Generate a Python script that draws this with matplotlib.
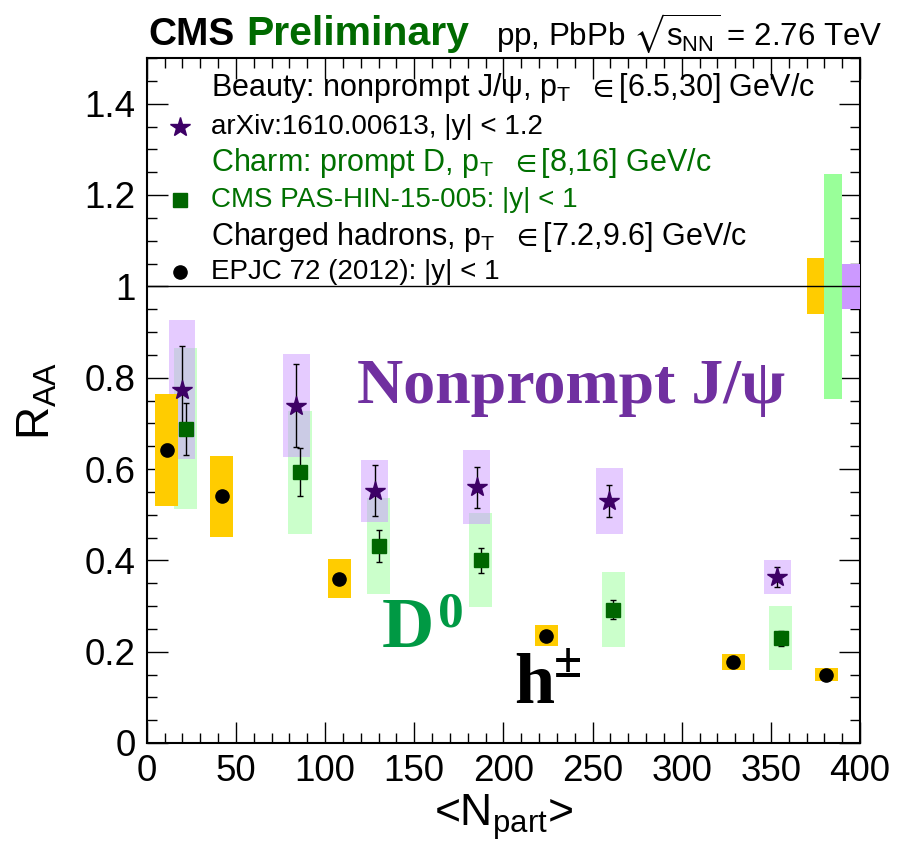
import numpy as np
import matplotlib
matplotlib.use('Agg')
import matplotlib.pyplot as plt
from matplotlib.ticker import MultipleLocator, FuncFormatter

plt.rcParams['font.family'] = ['Liberation Sans', 'DejaVu Sans']
plt.rcParams['mathtext.fontset'] = 'custom'
plt.rcParams['mathtext.rm'] = 'Liberation Sans'
plt.rcParams['mathtext.it'] = 'Liberation Sans'
plt.rcParams['mathtext.bf'] = 'Liberation Sans:bold'
plt.rcParams['mathtext.fallback'] = 'stixsans'

# charged hadrons, EPJC 72 (2012)
npart_h = np.array([11.2, 42.0, 108.0, 224.0, 329.0, 381.0])
raa_h = np.array([0.642, 0.540, 0.360, 0.235, 0.177, 0.150])
stat_h = np.array([0.012, 0.006, 0.005, 0.004, 0.003, 0.003])
syst_h = np.array([0.123, 0.088, 0.043, 0.023, 0.018, 0.014])

# prompt D0, CMS PAS-HIN-15-005
npart_d = np.array([21.9, 86.0, 130.0, 187.4, 261.6, 355.5])
raa_d = np.array([0.688, 0.593, 0.431, 0.400, 0.292, 0.229])
stat_d = np.array([0.057, 0.053, 0.035, 0.028, 0.021, 0.017])
syst_d = np.array([0.176, 0.135, 0.105, 0.103, 0.082, 0.070])

# nonprompt J/psi, arXiv:1610.00613
npart_b = np.array([19.8, 84.0, 127.9, 185.0, 259.4, 353.6])
raa_b = np.array([0.774, 0.739, 0.552, 0.560, 0.530, 0.363])
stat_b = np.array([0.095, 0.090, 0.056, 0.045, 0.035, 0.022])
syst_b = np.array([0.153, 0.113, 0.067, 0.081, 0.073, 0.037])

# global uncertainties, drawn as boxes at R_AA = 1
glob_h = 0.061
glob_d = 0.246
glob_b = 0.050

c_b = '#3d0066'
c_d = '#006600'
c_dtxt = '#007000'

fig = plt.figure(figsize=(9.01, 8.42), dpi=100)
ax = fig.add_axes([146.7/901, 1-743/842, 713.3/901, 685/842])

# systematic boxes
ax.bar(npart_d, 2*syst_d, bottom=raa_d-syst_d, width=13, color='#99ff99', alpha=0.5, lw=0, zorder=1)
ax.bar(npart_b, 2*syst_b, bottom=raa_b-syst_b, width=15, color='#cc99ff', alpha=0.5, lw=0, zorder=2)
ax.bar(npart_h, 2*syst_h, bottom=raa_h-syst_h, width=13, color='#ffcc00', lw=0, zorder=3)

glob = np.array([glob_h, glob_d, glob_b])
ax.bar([375, 385, 395], 2*glob, bottom=1-glob, width=10,
       color=['#ffcc00', '#99ff99', '#cc99ff'], lw=0, zorder=3)
ax.axhline(1, color='k', lw=1, zorder=4)

# points with statistical errors
ax.errorbar(npart_h, raa_h, yerr=stat_h, fmt='o', ms=9.5, color='k', ecolor='k',
            elinewidth=1, capsize=2.5, capthick=1, zorder=6)
ax.errorbar(npart_d, raa_d, yerr=stat_d, fmt='s', ms=10, color=c_d, ecolor='k',
            elinewidth=1, capsize=2.5, capthick=1, zorder=6)
ax.errorbar(npart_b, raa_b, yerr=stat_b, fmt='*', ms=15, color=c_b, ecolor='k',
            elinewidth=1, capsize=2.5, capthick=1, zorder=6)

ax.set_xlim(0, 400)
ax.set_ylim(0, 1.5)
ax.xaxis.set_major_locator(MultipleLocator(50))
ax.xaxis.set_minor_locator(MultipleLocator(10))
ax.yaxis.set_major_locator(MultipleLocator(0.2))
ax.yaxis.set_minor_locator(MultipleLocator(0.05))
ax.yaxis.set_major_formatter(FuncFormatter(lambda v, p: '%g' % round(v, 2)))
ax.tick_params(which='both', direction='in', top=True, right=True, width=1)
ax.tick_params(which='major', length=15, labelsize=26.5, pad=8)
ax.tick_params(which='minor', length=7.5)
for s in ax.spines.values():
    s.set_linewidth(1.5)

ax.set_xlabel(r'<N$_{\rm part}$>', fontsize=32, labelpad=2)
ax.set_ylabel(r'R$_{\rm AA}$', fontsize=33, labelpad=18)

# legend block: (marker, text, text colour, font size)
rows = [
    (None, r'Beauty: nonprompt J/$\psi$, p$_{\rm T}$  $\in$[6.5,30] GeV/c', 'k', 22),
    (('*', c_b, 15), 'arXiv:1610.00613, |y| < 1.2', 'k', 20),
    (None, r'Charm: prompt D, p$_{\rm T}$  $\in$[8,16] GeV/c', c_dtxt, 22),
    (('s', c_d, 10), 'CMS PAS-HIN-15-005: |y| < 1', c_dtxt, 20),
    (None, r'Charged hadrons, p$_{\rm T}$  $\in$[7.2,9.6] GeV/c', 'k', 22),
    (('o', 'k', 9.5), 'EPJC 72 (2012): |y| < 1', 'k', 20),
]
row_y = [0.956, 0.899, 0.847, 0.793, 0.739, 0.688]
for (mk, label, col, fs), y in zip(rows, row_y):
    if mk is not None:
        ax.plot([0.0467], [y], marker=mk[0], color=mk[1], ms=mk[2], ls='none',
                transform=ax.transAxes, clip_on=False, zorder=7)
    ax.text(0.0901, y, label, color=col, fontsize=fs, va='center', ha='left',
            transform=ax.transAxes, zorder=7)

# particle labels
ax.text(117.9, 0.745, 'Nonprompt J/ψ', family='Liberation Serif', weight='bold',
        fontsize=46, color='#7030a0', va='baseline', zorder=7)
ax.text(132.0, 0.210, 'D', family='Liberation Serif', weight='bold',
        fontsize=52, color='#009944', va='baseline', zorder=7)
ax.text(163.5, 0.256, '0', family='Liberation Serif', weight='bold',
        fontsize=37, color='#009944', va='baseline', zorder=7)
ax.text(206.0, 0.088, 'h', family='Liberation Serif', weight='bold',
        fontsize=52, color='k', va='baseline', zorder=7)
ax.text(228.4, 0.145, '±', family='Liberation Serif', weight='bold',
        fontsize=37, color='k', va='baseline', zorder=7)

# header
fig.text(148/901, 1-45/842, 'CMS', fontsize=28, weight='bold', va='baseline')
fig.text(246/901, 1-45/842, 'Preliminary', fontsize=29.5, weight='bold',
         color='#006a00', va='baseline')
fig.text(496/901, 1-45/842, r'pp, PbPb $\sqrt{s_{\rm NN}}$ = 2.76 TeV',
         fontsize=22.5, va='baseline')

fig.savefig('out.png', dpi=100)
